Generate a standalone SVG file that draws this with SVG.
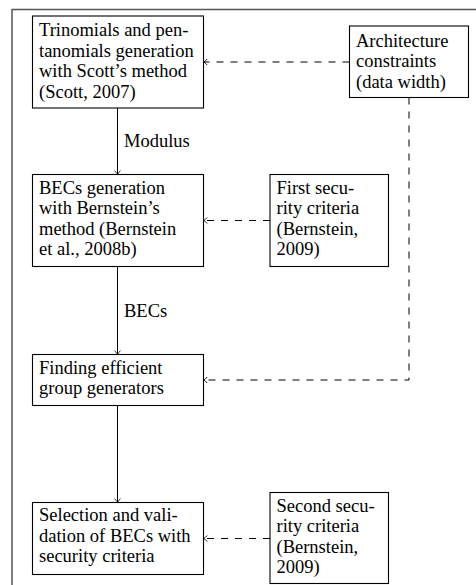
<svg xmlns="http://www.w3.org/2000/svg" width="476" height="585" viewBox="0 0 476 585">
<style>
.box{fill:#fff;stroke:#000;stroke-width:1.1}
.t{font-family:"Liberation Serif","Times New Roman",serif;font-size:18.5px;fill:#000}
.solid{fill:none;stroke:#000;stroke-width:1}
.dash{fill:none;stroke:#000;stroke-width:1;stroke-dasharray:7 7}
.frame{fill:none;stroke:#555;stroke-width:1.5}
</style>
<defs>
<marker id="arr" markerUnits="userSpaceOnUse" markerWidth="10" markerHeight="10" viewBox="-5 -5 10 10" refX="0" refY="0" orient="auto">
<path d="M-3.2,-3 Q-1,-0.6 0,0 Q-1,0.6 -3.2,3" fill="none" stroke="#000" stroke-width="0.9"/>
</marker>
</defs>
<path class="frame" d="M12,585 V9.5 H476"/>
<g id="connectors">
<path class="solid" d="M117.5,108 V174" marker-end="url(#arr)"/>
<text class="t" x="124" y="147">Modulus</text>
<path class="solid" d="M117.5,267 V354" marker-end="url(#arr)"/>
<text class="t" x="124" y="317">BECs</text>
<path class="solid" d="M117.5,405.5 V502" marker-end="url(#arr)"/>
<path class="dash" d="M349.5,62 H204" marker-end="url(#arr)"/>
<path class="dash" d="M270,220.5 H204" marker-end="url(#arr)"/>
<path class="dash" d="M409,97.5 V380 H204" marker-end="url(#arr)"/>
<path class="dash" d="M270,538.5 H204" marker-end="url(#arr)"/>
</g>
<g id="n1">
<rect class="box" x="32.5" y="16" width="171" height="92"/>
<text class="t"><tspan x="39" y="36">Trinomials and pen-</tspan><tspan x="39" y="56.5">tanomials generation</tspan><tspan x="39" y="77">with Scott’s method</tspan><tspan x="39" y="97.5">(Scott, 2007)</tspan></text>
</g>
<g id="n2">
<rect class="box" x="32.5" y="174.5" width="171" height="92"/>
<text class="t"><tspan x="39" y="193.5">BECs generation</tspan><tspan x="39" y="214">with Bernstein’s</tspan><tspan x="39" y="234.5">method (Bernstein</tspan><tspan x="39" y="255">et al., 2008b)</tspan></text>
</g>
<g id="n3">
<rect class="box" x="32.5" y="354.5" width="171" height="51"/>
<text class="t"><tspan x="39" y="373.5">Finding efficient</tspan><tspan x="39" y="394">group generators</tspan></text>
</g>
<g id="n4">
<rect class="box" x="32.5" y="502.5" width="171" height="72"/>
<text class="t"><tspan x="39" y="521">Selection and vali-</tspan><tspan x="39" y="541.5">dation of BECs with</tspan><tspan x="39" y="562">security criteria</tspan></text>
</g>
<g id="arch">
<rect class="box" x="349.5" y="26" width="119" height="71.5"/>
<text class="t"><tspan x="356" y="46.5">Architecture</tspan><tspan x="356" y="67">constraints</tspan><tspan x="356" y="87.5">(data width)</tspan></text>
</g>
<g id="sec1">
<rect class="box" x="270" y="174.5" width="118.5" height="92"/>
<text class="t"><tspan x="276.5" y="193.5">First secu-</tspan><tspan x="276.5" y="214">rity criteria</tspan><tspan x="276.5" y="234.5">(Bernstein,</tspan><tspan x="276.5" y="255">2009)</tspan></text>
</g>
<g id="sec2">
<rect class="box" x="270" y="492.5" width="118.5" height="91"/>
<text class="t"><tspan x="276.5" y="511.5">Second secu-</tspan><tspan x="276.5" y="532">rity criteria</tspan><tspan x="276.5" y="552.5">(Bernstein,</tspan><tspan x="276.5" y="573">2009)</tspan></text>
</g>
</svg>
